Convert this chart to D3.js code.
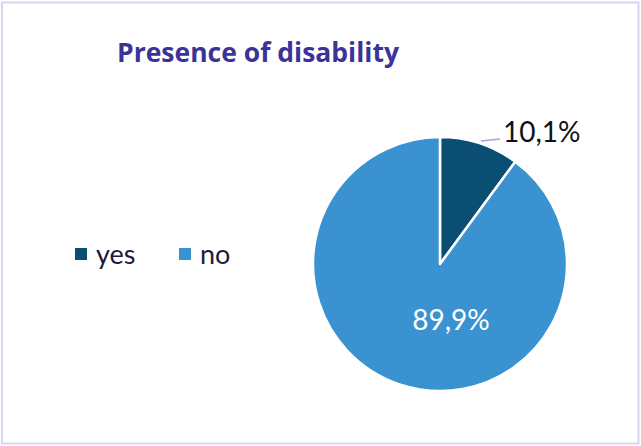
<!DOCTYPE html>
<html><head><meta charset="utf-8">
<script src="https://cdn.jsdelivr.net/npm/d3@7"></script>
<style>body{margin:0;background:#fff}svg{display:block}</style>
</head><body>
<script>
const categories = ["yes", "no"];
const values = [10.1, 89.9];
const labels = ["10,1%", "89,9%"];
const colors = ["#0a4f73", "#3a93d0"];

const W = 641, H = 446;
const F = "Lato, sans-serif";
const svg = d3.select("body").append("svg").attr("width", W).attr("height", H);
svg.append("rect").attr("x", 2).attr("y", 2.5).attr("width", 636.5).attr("height", 441)
  .attr("fill", "#fff").attr("stroke", "#d9d4f2").attr("stroke-width", 2);

svg.append("text").attr("x", 258).attr("y", 62).attr("text-anchor", "middle")
  .attr("font-family", "Open Sans, sans-serif").attr("font-weight", "bold")
  .attr("font-size", 26.5).attr("fill", "#3b3397").text("Presence of disability");

const cx = 440, cy = 264, r = 127;
const pie = d3.pie().sort(null).value(d => d)(values);
const arc = d3.arc().innerRadius(0).outerRadius(r);
const g = svg.append("g").attr("transform", `translate(${cx},${cy})`);
g.selectAll("path").data(pie).join("path")
  .attr("d", arc).attr("fill", (d, i) => colors[i])
  .attr("stroke", "#fff").attr("stroke-width", 2.5).attr("stroke-linejoin", "round");

// leader line for small slice
g.append("path").attr("d", `M41,-123L60,-125`)
  .attr("stroke", "#a99be0").attr("stroke-width", 1.5).attr("fill", "none");
g.append("text").attr("x", 63).attr("y", -122)
  .attr("font-family", F).attr("font-size", 28).attr("fill", "#111")
  .text(labels[0]);

g.append("text").attr("x", 11).attr("y", 66).attr("text-anchor", "middle")
  .attr("font-family", F).attr("font-size", 28).attr("fill", "#fff")
  .text(labels[1]);

// legend
const lg = svg.append("g");
const lx = [75, 179];
categories.forEach((c, i) => {
  lg.append("rect").attr("x", lx[i]).attr("y", 248).attr("width", 12).attr("height", 12).attr("fill", colors[i]);
  lg.append("text").attr("x", lx[i] + 21).attr("y", 264)
    .attr("font-family", F).attr("font-size", 27).attr("fill", "#1c1c3a").text(c);
});
</script>
</body></html>
